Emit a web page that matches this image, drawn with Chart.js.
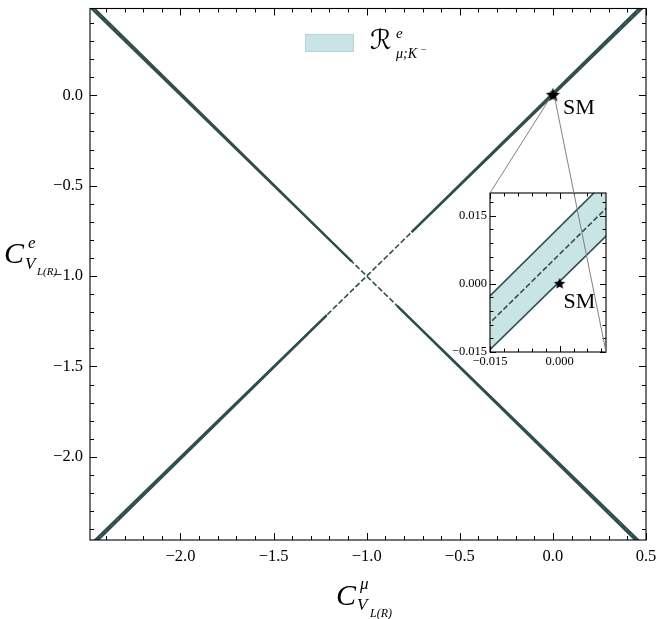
<!DOCTYPE html>
<html><head><meta charset="utf-8">
<script src="https://cdn.jsdelivr.net/npm/chart.js@4.4.0/dist/chart.umd.min.js"></script>
<style>
html,body{margin:0;padding:0;background:#fff;}
#wrap{position:relative;width:665px;height:619px;}
canvas{position:absolute;left:0;top:0;}
</style></head><body>
<div id="wrap"><canvas id="main" width="665" height="619"></canvas><canvas id="inset" width="665" height="619"></canvas></div>
<script>
// ---- axis ranges and tick labels ----
const xRange = [-2.486, 0.5];
const yRange = [-2.46, 0.48];
const xMajorTicks = [-2.0, -1.5, -1.0, -0.5, 0.0, 0.5];
const yMajorTicks = [-2.0, -1.5, -1.0, -0.5, 0.0];
const insetXRange = [-0.015, 0.01];
const insetYRange = [-0.015, 0.02];
const insetXTicks = [-0.015, 0.0];
const insetYTicks = [-0.015, 0.0, 0.015];

// ---- band A (through the SM point, slope ~ +1) ----
const bandAX      = [-2.486, -1.215, -0.758, 0.5];
const bandAUpperY = [-2.5046, -1.2177, -0.7550, 0.5188];
const bandALowerY = [-2.4867, -1.2151, -0.7579, 0.5008];
const centerAX    = [-2.486, 0.5];
const centerAY    = [-2.4957, 0.5098];

// ---- band B (mirror branch, slope ~ -1) ----
const bandBX      = [-2.486, -1.08, -0.835, 0.5];
const bandBUpperY = [0.5046, -0.9190, -1.1671, -2.5188];
const bandBLowerY = [0.4867, -0.9200, -1.1651, -2.5008];
const centerBX    = [-2.486, 0.5];
const centerBY    = [0.4957, -2.5098];

// ---- SM point ----
const smX = [0.0];
const smY = [0.0];

const lineColor = '#2f4f4f';
const fillColor = '#c9e4e4';
const serif = '"Liberation Serif", "DejaVu Serif", serif';

function pts(xs, ys){ return xs.map((x,i)=>({x:x, y:ys[i]})); }
function fmt(d){ return v => (v < -1e-12 ? '\u2212' : '') + Math.abs(v).toFixed(d); }

function makeStar(r){
  const s = Math.ceil(r*2+2);
  const c = document.createElement('canvas'); c.width = s; c.height = s;
  const g = c.getContext('2d');
  g.translate(s/2, s/2);
  g.beginPath();
  for (let i=0;i<10;i++){
    const a = -Math.PI/2 + i*Math.PI/5;
    const rr = (i%2===0) ? r : r*0.45;
    g.lineTo(rr*Math.cos(a), rr*Math.sin(a));
  }
  g.closePath(); g.fillStyle = '#000'; g.fill();
  return c;
}

function gapSegment(gapIndex){
  return { borderColor: ctx => ctx.p0DataIndex === gapIndex ? 'rgba(0,0,0,0)' : lineColor };
}

function buildDatasets(starR, withB, lw){
  const ds = [];
  ds.push({ data: pts(bandAX, bandAUpperY), borderColor: lineColor, borderWidth: lw, pointRadius: 0,
            fill: '+1', backgroundColor: fillColor, segment: gapSegment(1), order: 3 });
  ds.push({ data: pts(bandAX, bandALowerY), borderColor: lineColor, borderWidth: lw, pointRadius: 0,
            fill: false, segment: gapSegment(1), order: 3 });
  if (withB){
    ds.push({ data: pts(bandBX, bandBUpperY), borderColor: lineColor, borderWidth: lw, pointRadius: 0,
              fill: '+1', backgroundColor: fillColor, segment: gapSegment(1), order: 3 });
    ds.push({ data: pts(bandBX, bandBLowerY), borderColor: lineColor, borderWidth: lw, pointRadius: 0,
              fill: false, segment: gapSegment(1), order: 3 });
    ds.push({ data: pts(centerBX, centerBY), borderColor: lineColor, borderWidth: 1.6, pointRadius: 0,
              borderDash: [5.5, 2.4], fill: false, order: 1 });
  }
  ds.push({ data: pts(centerAX, centerAY), borderColor: lineColor, borderWidth: 1.6, pointRadius: 0,
            borderDash: [5.5, 2.4], fill: false, order: 1 });
  ds.push({ data: pts(smX, smY), showLine: false, pointStyle: makeStar(starR), pointRadius: starR,
            pointHoverRadius: starR, order: 0 });
  return ds;
}

function drawTickMarks(ctx, chart, xMaj, xMin, yMaj, yMin, lMaj, lMin){
  const a = chart.chartArea, xs = chart.scales.x, ys = chart.scales.y;
  ctx.save(); ctx.strokeStyle = '#000'; ctx.lineWidth = 1;
  ctx.beginPath();
  const vx = (v, L) => { const p = Math.round(xs.getPixelForValue(v)) + 0.5;
    ctx.moveTo(p, a.bottom); ctx.lineTo(p, a.bottom - L); ctx.moveTo(p, a.top); ctx.lineTo(p, a.top + L); };
  const vy = (v, L) => { const p = Math.round(ys.getPixelForValue(v)) + 0.5;
    ctx.moveTo(a.left, p); ctx.lineTo(a.left + L, p); ctx.moveTo(a.right, p); ctx.lineTo(a.right - L, p); };
  xMaj.forEach(v => vx(v, lMaj)); xMin.forEach(v => vx(v, lMin));
  yMaj.forEach(v => vy(v, lMaj)); yMin.forEach(v => vy(v, lMin));
  ctx.stroke();
  ctx.lineWidth = 1.1;
  ctx.strokeRect(a.left, a.top, a.right - a.left, a.bottom - a.top);
  ctx.restore();
}

function minorTicks(lo, hi, step, majors){
  const out = [];
  const n0 = Math.ceil(lo/step - 1e-9), n1 = Math.floor(hi/step + 1e-9);
  for (let n=n0;n<=n1;n++){ const v = n*step; if (!majors.some(m => Math.abs(m - v) < step*0.01)) out.push(v); }
  return out;
}

function txt(ctx, s, x, y, font, align){
  ctx.font = font; ctx.textAlign = align || 'left'; ctx.textBaseline = 'alphabetic'; ctx.fillStyle = '#000';
  ctx.fillText(s, x, y);
}

const mainDecor = {
  id: 'mainDecor',
  beforeDatasetsDraw(chart){
    const ctx = chart.ctx, xs = chart.scales.x, ys = chart.scales.y;
    const x0 = xs.getPixelForValue(insetXRange[0]), x1 = xs.getPixelForValue(insetXRange[1]);
    const y0 = ys.getPixelForValue(insetYRange[0]), y1 = ys.getPixelForValue(insetYRange[1]);
    ctx.save(); ctx.strokeStyle = '#808080'; ctx.lineWidth = 1;
    ctx.strokeRect(x0, y1, x1 - x0, y0 - y1); ctx.restore();
  },
  afterDraw(chart){
    const ctx = chart.ctx;
    drawTickMarks(ctx, chart, xMajorTicks, minorTicks(xRange[0], xRange[1], 0.1, xMajorTicks),
                  yMajorTicks, minorTicks(yRange[0], yRange[1], 0.1, yMajorTicks), 7, 4);
    const px = chart.scales.x.getPixelForValue(smX[0]), py = chart.scales.y.getPixelForValue(smY[0]);
    txt(ctx, 'SM', px + 10, py + 19, '22px ' + serif);
    // legend
    ctx.save();
    ctx.fillStyle = fillColor; ctx.strokeStyle = '#b3d6d6'; ctx.lineWidth = 1;
    ctx.fillRect(305, 34, 49, 18); ctx.strokeRect(305.5, 34.5, 48, 17);
    ctx.restore();
    txt(ctx, '\u211B', 370, 49, '27px "DejaVu Serif", "DejaVu Sans", serif');
    txt(ctx, 'e', 396, 38, 'italic 15px ' + serif);
    txt(ctx, '\u03BC;K', 396, 58, 'italic 14px ' + serif);
    txt(ctx, '\u2212', 421, 53, '10px ' + serif);
    // x title
    txt(ctx, 'C', 336, 605, 'italic 30px ' + serif);
    txt(ctx, '\u03BC', 360, 589, 'italic 17px ' + serif);
    txt(ctx, 'V', 357, 610, 'italic 17px ' + serif);
    txt(ctx, 'L(R)', 370, 617, 'italic 12px ' + serif);
    // y title
    txt(ctx, 'C', 4, 263, 'italic 30px ' + serif);
    txt(ctx, 'e', 28, 248, 'italic 17px ' + serif);
    txt(ctx, 'V', 25, 269, 'italic 17px ' + serif);
    txt(ctx, 'L(R)', 37, 275, 'italic 11px ' + serif);
  }
};

function axisCfg(range, ticks, decimals, size, pad, isX, boxSize){
  return {
    type: 'linear', min: range[0], max: range[1],
    afterFit: s => {
      s.paddingTop = 0; s.paddingBottom = 0; s.paddingLeft = 0; s.paddingRight = 0;
      if (isX) s.height = boxSize; else s.width = boxSize;
    },
    afterBuildTicks: s => { s.ticks = ticks.map(v => ({value: v})); },
    grid: { display: false, drawTicks: false },
    border: { display: false },
    ticks: { padding: pad, color: '#000', autoSkip: false, maxRotation: 0,
             font: { family: serif, size: size }, callback: fmt(decimals) }
  };
}

const mainChart = new Chart(document.getElementById('main'), {
  type: 'line',
  data: { datasets: buildDatasets(7.5, true, 2.1) },
  options: {
    responsive: false, animation: false, events: [],
    layout: { padding: { left: 0, right: 19, top: 7, bottom: 0 } },
    plugins: { legend: { display: false }, tooltip: { enabled: false }, filler: { drawTime: 'beforeDatasetsDraw' } },
    scales: { x: axisCfg(xRange, xMajorTicks, 1, 16.5, 7, true, 79), y: axisCfg(yRange, yMajorTicks, 1, 16.5, 7, false, 90) }
  },
  plugins: [mainDecor]
});

const insetDecor = {
  id: 'insetDecor',
  beforeDraw(chart){
    const a = chart.chartArea, ctx = chart.ctx;
    ctx.save(); ctx.fillStyle = '#fff'; ctx.fillRect(a.left, a.top, a.right - a.left, a.bottom - a.top); ctx.restore();
  },
  afterDraw(chart){
    const ctx = chart.ctx, a = chart.chartArea;
    drawTickMarks(ctx, chart, insetXTicks, minorTicks(insetXRange[0], insetXRange[1], 0.003, insetXTicks),
                  insetYTicks, minorTicks(insetYRange[0], insetYRange[1], 0.003, insetYTicks), 6, 3.5);
    const px = chart.scales.x.getPixelForValue(smX[0]), py = chart.scales.y.getPixelForValue(smY[0]);
    txt(ctx, 'SM', px + 4, py + 24, '22px ' + serif);
    // connectors from the zoom box in the main axes
    const mx = mainChart.scales.x, my = mainChart.scales.y;
    const bl = [mx.getPixelForValue(insetXRange[0]), my.getPixelForValue(insetYRange[0])];
    const br = [mx.getPixelForValue(insetXRange[1]), my.getPixelForValue(insetYRange[0])];
    ctx.save(); ctx.strokeStyle = '#808080'; ctx.lineWidth = 1;
    ctx.beginPath();
    ctx.moveTo(bl[0], bl[1]); ctx.lineTo(a.left, a.top);
    ctx.moveTo(br[0], br[1]); ctx.lineTo(a.right, a.bottom);
    ctx.stroke(); ctx.restore();
  }
};

const insetChart = new Chart(document.getElementById('inset'), {
  type: 'line',
  data: { datasets: buildDatasets(6, false, 1.6) },
  options: {
    responsive: false, animation: false, events: [],
    layout: { padding: { left: 430, right: 59, top: 193, bottom: 247 } },
    plugins: { legend: { display: false }, tooltip: { enabled: false }, filler: { drawTime: 'beforeDatasetsDraw' } },
    scales: { x: axisCfg(insetXRange, insetXTicks, 3, 12.5, 2, true, 20), y: axisCfg(insetYRange, insetYTicks, 3, 12.5, 3, false, 60) }
  },
  plugins: [insetDecor]
});
</script>
</body></html>
